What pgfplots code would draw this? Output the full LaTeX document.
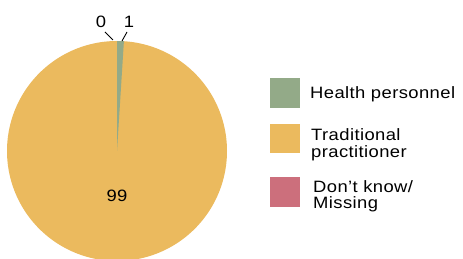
\documentclass[border=0pt]{standalone}
\usepackage{fontspec}
\setmainfont{Liberation Sans}[FakeStretch=1.12, LetterSpace=2.5]
\usepackage{pgfplots}
\pgfplotsset{compat=1.18}
\definecolor{pieG}{RGB}{147,170,136}
\definecolor{pieY}{RGB}{235,186,94}
\definecolor{pieP}{RGB}{204,111,124}
\begin{document}
\begin{tikzpicture}
% shares (percent)
\def\vH{1}\def\vT{99}\def\vD{0}
\pgfmathsetmacro\aA{90}
\pgfmathsetmacro\aB{90-3.6*\vH}
\begin{axis}[x=1bp,y=1bp,xmin=0,xmax=463,ymin=0,ymax=259,hide axis,clip=true]
% Traditional practitioner (whole disc, then other slices on top)
\addplot[fill=pieY, draw=none, domain=0:360, samples=361] ({117+110*cos(x)},{108+110*sin(x)}) -- cycle;
% Health personnel
\addplot[fill=pieG, draw=none, domain=\aB:\aA, samples=20] ({117+110*cos(x)},{108+110*sin(x)}) -- (axis cs:117,108) -- cycle;
% labels
\def\lf{\fontsize{16.5}{19}\selectfont}
\node[anchor=base, font=\lf] at (axis cs:101,232) {0};
\node[anchor=base, font=\lf] at (axis cs:129,232) {1};
\node[anchor=base, font=\lf] at (axis cs:117,58) {99};
\draw[black, line width=0.9bp] (axis cs:105,227) -- (axis cs:113,219);
\draw[black, line width=0.9bp] (axis cs:127,227) -- (axis cs:122,218);
% legend
\fill[pieG] (axis cs:270,151) rectangle (axis cs:300,181);
\fill[pieY] (axis cs:270,106) rectangle (axis cs:300,135);
\fill[pieP] (axis cs:270,52) rectangle (axis cs:300,82);
\node[anchor=base west, inner sep=0pt, font=\lf] at (axis cs:310,161) {Health personnel};
\node[anchor=base west, inner sep=0pt, font=\lf] at (axis cs:311,119) {Traditional};
\node[anchor=base west, inner sep=0pt, font=\lf] at (axis cs:311,102) {practitioner};
\node[anchor=base west, inner sep=0pt, font=\lf] at (axis cs:313,67) {Don’t know/};
\node[anchor=base west, inner sep=0pt, font=\lf] at (axis cs:313,51) {Missing};
\end{axis}
\pgfresetboundingbox
\path (0,0) rectangle (463bp,259bp);
\end{tikzpicture}
\end{document}
